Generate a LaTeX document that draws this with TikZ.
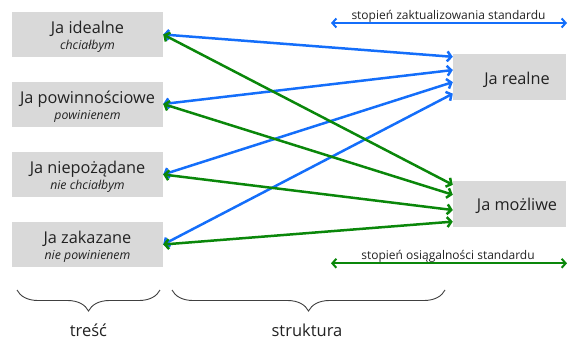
\documentclass[tikz,border=0pt]{standalone}
\usepackage{fontspec}
\setmainfont{Open Sans}
\usetikzlibrary{arrows.meta,calc,decorations.pathreplacing}
\definecolor{boxgray}{RGB}{217,217,217}
\definecolor{lblue}{RGB}{20,110,250}
\definecolor{lgreen}{RGB}{10,135,10}
\definecolor{txt}{RGB}{34,34,34}
\begin{document}
\begin{tikzpicture}[x=1pt,y=-1pt,
  lbox/.style={fill=boxgray, minimum width=151pt, minimum height=45pt, inner sep=0pt},
  rbox/.style={fill=boxgray, minimum width=113pt, minimum height=46pt, inner sep=0pt},
  maintxt/.style={font=\fontsize{16.3}{19}\selectfont, text=txt, inner sep=0pt, anchor=base},
  subtxt/.style={font=\fontsize{12.3}{14}\selectfont\itshape, text=txt, inner sep=0pt, anchor=base},
  notetxt/.style={font=\fontsize{12}{14}\selectfont, text=txt, inner sep=0pt, anchor=base},
  bracetxt/.style={font=\fontsize{16.5}{19}\selectfont, text=txt, inner sep=0pt, anchor=base},
  link/.style={line width=2.5pt, {Straight Barb[length=4pt,width=10pt]}-{Straight Barb[length=4pt,width=10pt]}},
  scaleline/.style={line width=2pt, {Straight Barb[length=4pt,width=9pt]}-{Straight Barb[length=4pt,width=9pt]}},
  bracestyle/.style={draw=black!75, line width=0.9pt, decorate, decoration={brace, amplitude=21pt, aspect=0.5}}
]
\useasboundingbox (0,0) rectangle (570,340);

% left boxes
\node[lbox] (b1) at (87.5,34.5) {};
\node[maintxt] (b1t) at (87.5,33.5) {Ja idealne};
\node[subtxt] (b1s) at (87.5,49.5) {chciałbym};

\node[lbox] (b2) at (87.5,104) {};
\node[maintxt] (b2t) at (87.5,103) {Ja powinnościowe};
\node[subtxt] (b2s) at (87.5,119) {powinienem};

\node[lbox] (b3) at (87.5,174.5) {};
\node[maintxt] (b3t) at (87.5,173.5) {Ja niepożądane};
\node[subtxt] (b3s) at (87.5,189.5) {nie chciałbym};

\node[lbox] (b4) at (87.5,244.5) {};
\node[maintxt] (b4t) at (87.5,243.5) {Ja zakazane};
\node[subtxt] (b4s) at (87.5,259.5) {nie powinienem};

% right boxes
\node[rbox] (R) at (509.5,77) {};
\node[maintxt] (Rt) at (517,84) {Ja realne};
\node[rbox] (M) at (509.5,204) {};
\node[maintxt] (Mt) at (517,210.5) {Ja możliwe};

% blue links
\draw[link, lblue] (b1.east) -- ($(R.north west)!0.065!(R.south west)$);
\draw[link, lblue] (b2.east) -- ($(R.north west)!0.35!(R.south west)$);
\draw[link, lblue] (b3.east) -- ($(R.north west)!0.61!(R.south west)$);
\draw[link, lblue] (b4.east) -- ($(R.north west)!0.86!(R.south west)$);
% green links
\draw[link, lgreen] (b1.east) -- ($(M.north west)!0.087!(M.south west)$);
\draw[link, lgreen] (b2.east) -- ($(M.north west)!0.30!(M.south west)$);
\draw[link, lgreen] (b3.east) -- ($(M.north west)!0.63!(M.south west)$);
\draw[link, lgreen] (b4.east) -- ($(M.north west)!0.88!(M.south west)$);

% scales
\coordinate (s1a) at (331,23);
\coordinate (s1b) at (567,23);
\draw[scaleline, lblue] (s1a) -- (s1b);
\node[notetxt] (s1t) at (448.5,19) {stopień zaktualizowania standardu};

\coordinate (s2a) at (331,263.3);
\coordinate (s2b) at (567,263.3);
\draw[scaleline, lgreen] (s2a) -- (s2b);
\node[notetxt] (s2t) at (448,259.3) {stopień osiągalności standardu};

% braces
\coordinate (br1a) at (160,290);
\coordinate (br1b) at (17,290);
\draw[bracestyle] (br1a) -- (br1b);
\node[bracetxt] (tr) at (88.5,336) {treść};
\coordinate (br2a) at (445,290);
\coordinate (br2b) at (172,290);
\draw[bracestyle] (br2a) -- (br2b);
\node[bracetxt] (st) at (307,336) {struktura};
\end{tikzpicture}
\end{document}
